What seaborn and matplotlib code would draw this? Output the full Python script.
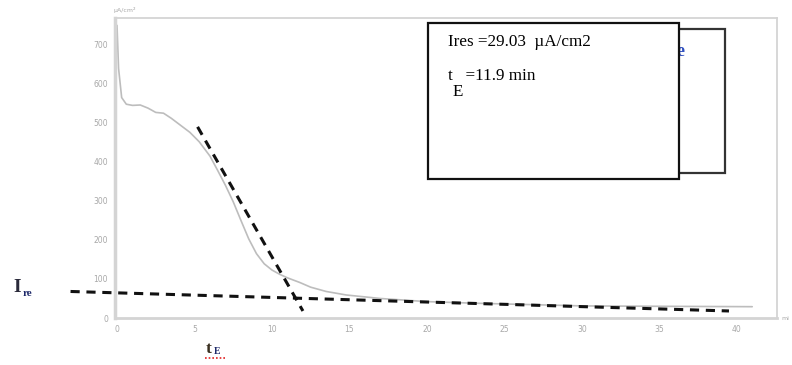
import numpy as np
import pandas as pd
import matplotlib
matplotlib.use("Agg")
import matplotlib.pyplot as plt
import seaborn as sns
from matplotlib.patches import Rectangle
from matplotlib.lines import Line2D

# ---- data ----
time_min = [0, 0.1, 0.3, 0.6, 1.0, 1.5, 2.0, 2.5, 3.0, 3.5, 4.0, 4.7, 5.3, 6.0,
            6.5, 7.0, 7.5, 8.0, 8.5, 9.0, 9.5, 10.0, 10.5, 11.0, 11.8, 12.5,
            13.5, 14.8, 17, 20, 23, 26, 30, 35, 41]
current = [750, 640, 565, 548, 545, 546, 538, 527, 525, 512, 497, 476, 452, 415,
           378, 340, 298, 250, 203, 165, 139, 123, 112, 103, 91, 79,
           68, 59, 50, 42, 38, 35, 31, 30, 29]

tangent_steep_x = [5.2, 12.0]
tangent_steep_y = [490, 18]
tangent_flat_x = [-3.0, 39.5]
tangent_flat_y = [68, 18]

x_ticks = [0, 5, 10, 15, 20, 25, 30, 35, 40]
y_ticks = [0, 100, 200, 300, 400, 500, 600, 700]

ires_text = "Ires =29.03  \u00b5A/cm2"
te_text = "t   =11.9 min"

df = pd.DataFrame({"t": time_min, "I": current})

sns.set_theme(style="white")
plt.rcParams["font.family"] = ["DejaVu Sans"]

W, H = 792, 365
fig = plt.figure(figsize=(W / 100, H / 100), dpi=100)
ax = fig.add_axes([115 / W, 1 - 318 / H, (777 - 115) / W, (318 - 18) / H])

sns.lineplot(data=df, x="t", y="I", ax=ax, color="#bdbdbd", lw=1.2)
ax.plot(tangent_steep_x, tangent_steep_y, color="#111111", lw=2.2,
        dashes=(3, 2.2), solid_capstyle="butt", clip_on=False, zorder=5)
ax.plot(tangent_flat_x, tangent_flat_y, color="#111111", lw=2.2,
        dashes=(3, 2.2), clip_on=False, zorder=5)

ax.set_xlim(-0.13, 42.6)
ax.set_ylim(0, 769)
ax.set_xticks(x_ticks)
ax.set_yticks(y_ticks)
ax.set_xticklabels([str(v) for v in x_ticks])
ax.set_yticklabels([str(v) for v in y_ticks])
ax.tick_params(axis="both", length=0, labelsize=5.5, labelcolor="#a8a8a8", pad=5)
ax.set_xlabel("")
ax.set_ylabel("")
for name, sp in ax.spines.items():
    sp.set_visible(True)
    sp.set_color("#d4d4d4")
    sp.set_linewidth(1.3)
ax.spines["left"].set_linewidth(2.5)
ax.spines["bottom"].set_linewidth(2.0)

# axis unit labels
fig.text(113 / W, 1 - 10 / H, "\u00b5A/cm\u00b2", fontsize=4.5, color="#a8a8a8",
         ha="left", va="center")
fig.text(781 / W, 1 - 318 / H, "mi", fontsize=4.5, color="#a8a8a8",
         ha="left", va="center")

# outside annotations
fig.text(13 / W, 1 - 287 / H, "I", fontsize=14, fontweight="bold",
         family=["Liberation Serif"], color="#2a2a3a", ha="left", va="center")
fig.text(23 / W, 1 - 293 / H, "re", fontsize=8, fontweight="bold",
         family=["Liberation Serif"], color="#1f2a6a", ha="left", va="center")
fig.text(206 / W, 1 - 349 / H, "t", fontsize=12.5, fontweight="bold",
         family=["Liberation Serif"], color="#3a3020", ha="left", va="center")
fig.text(214 / W, 1 - 352 / H, "E", fontsize=7, fontweight="bold",
         family=["Liberation Serif"], color="#1f2a6a", ha="left", va="center")
fig.add_artist(Line2D([205 / W, 225 / W], [1 - 358 / H, 1 - 358 / H],
                      color="#e02020", lw=1.2, ls=(0, (1, 1.2))))

# back box (partially hidden)
fig.add_artist(Rectangle((430 / W, 1 - 173 / H), (725 - 430) / W, (173 - 29) / H,
                         facecolor="white", edgecolor="#333333", lw=1.6,
                         transform=fig.transFigure, zorder=10))
fig.text(676 / W, 1 - 52 / H, "e", fontsize=13, fontweight="bold",
         family=["Liberation Serif"], color="#3050c0", ha="left", va="center",
         zorder=11)
# front box
fig.add_artist(Rectangle((428 / W, 1 - 179 / H), (679 - 428) / W, (179 - 23) / H,
                         facecolor="white", edgecolor="#111111", lw=1.6,
                         transform=fig.transFigure, zorder=12))
fig.text(448 / W, 1 - 42 / H, ires_text, fontsize=12.3,
         family=["Liberation Serif", "DejaVu Serif"], color="black",
         ha="left", va="center", zorder=13)
fig.text(448 / W, 1 - 76 / H, te_text, fontsize=12.3,
         family=["Liberation Serif"], color="black", ha="left", va="center",
         zorder=13)
fig.text(453 / W, 1 - 92 / H, "E", fontsize=12.3,
         family=["Liberation Serif"], color="black", ha="left", va="center",
         zorder=13)

fig.savefig("out.png", dpi=100)
